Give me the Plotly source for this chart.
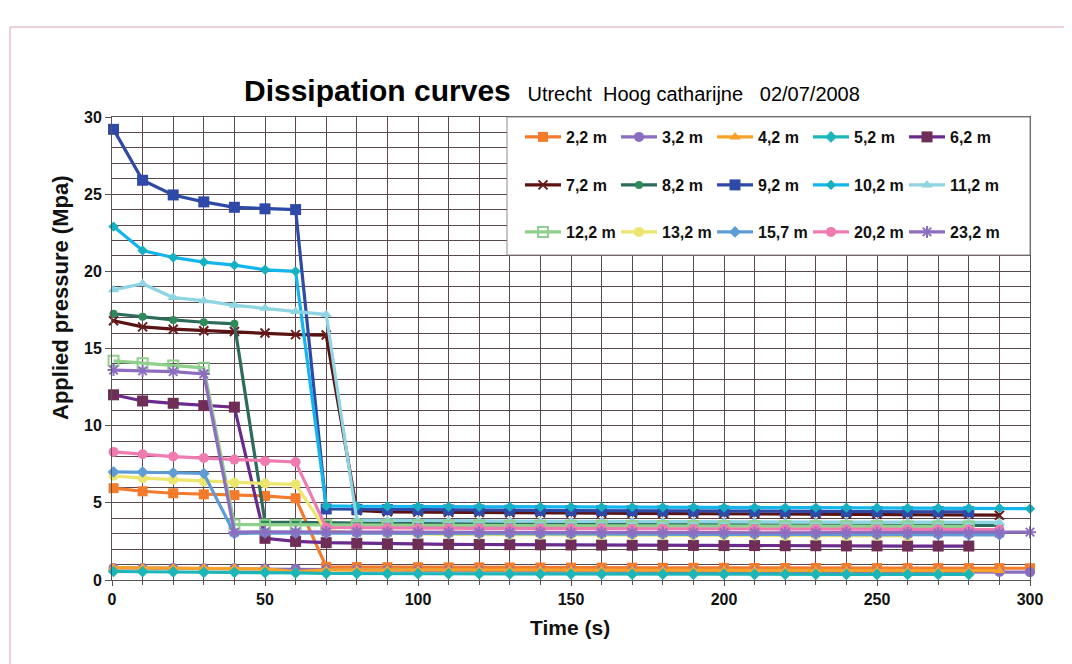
import plotly.graph_objects as go

# ---- data ----
T = [0.5, 10, 20, 30, 40, 50, 60, 70, 80, 90, 100, 110, 120, 130, 140, 150,
     160, 170, 180, 190, 200, 210, 220, 230, 240, 250, 260, 270, 280, 290, 300]

names = ["2,2 m", "3,2 m", "4,2 m", "5,2 m", "6,2 m",
         "7,2 m", "8,2 m", "9,2 m", "10,2 m", "11,2 m",
         "12,2 m", "13,2 m", "15,7 m", "20,2 m", "23,2 m"]

d22 = [5.95, 5.75, 5.62, 5.55, 5.5, 5.45, 5.3, 0.85, 0.84, 0.83, 0.83, 0.82, 0.82, 0.81, 0.81, 0.8,
       0.8, 0.8, 0.79, 0.79, 0.79, 0.78, 0.78, 0.78, 0.78, 0.77, 0.77, 0.77, 0.77, 0.77, 0.76]
d32 = [0.78, 0.77, 0.77, 0.76, 0.76, 0.74, 0.73, 0.68, 0.66, 0.64, 0.62, 0.61, 0.6, 0.59, 0.58, 0.58,
       0.57, 0.57, 0.56, 0.56, 0.55, 0.55, 0.54, 0.54, 0.53, 0.53, 0.53, 0.52, 0.52, 0.52, 0.51]
d42 = [0.8, 0.79, 0.78, 0.78, 0.77, 0.72, 0.55, 0.65, 0.66, 0.66, 0.65, 0.65, 0.65, 0.64, 0.64, 0.64,
       0.64, 0.63, 0.63, 0.63, 0.63, 0.62, 0.62, 0.62, 0.62, 0.62, 0.61, 0.61, 0.61, 0.61]
d52 = [0.55, 0.54, 0.52, 0.5, 0.5, 0.48, 0.46, 0.42, 0.42, 0.41, 0.41, 0.4, 0.4, 0.4, 0.39, 0.39,
       0.39, 0.38, 0.38, 0.38, 0.38, 0.37, 0.37, 0.37, 0.37, 0.36, 0.36, 0.36, 0.36]
d62 = [12.0, 11.6, 11.45, 11.3, 11.2, 2.7, 2.5, 2.42, 2.38, 2.35, 2.33, 2.31, 2.3, 2.29, 2.28, 2.27,
       2.26, 2.25, 2.25, 2.24, 2.23, 2.23, 2.22, 2.22, 2.21, 2.21, 2.2, 2.2, 2.2]
d72 = [16.8, 16.4, 16.25, 16.15, 16.1, 16.0, 15.9, 15.87, 4.5, 4.42, 4.4, 4.38, 4.37, 4.36, 4.35, 4.34,
       4.33, 4.32, 4.31, 4.3, 4.3, 4.29, 4.28, 4.28, 4.27, 4.26, 4.26, 4.25, 4.25, 4.2]
d82 = [17.25, 17.05, 16.85, 16.7, 16.6, 3.75, 3.72, 3.7, 3.68, 3.67, 3.66, 3.65, 3.64, 3.63, 3.62, 3.61,
       3.6, 3.6, 3.59, 3.58, 3.58, 3.57, 3.56, 3.56, 3.55, 3.55, 3.54, 3.54, 3.53, 3.53]
d92 = [29.2, 25.9, 24.95, 24.5, 24.15, 24.05, 24.0, 4.6, 4.58, 4.56, 4.55, 4.54, 4.53, 4.52, 4.51, 4.5,
       4.5, 4.49, 4.48, 4.47, 4.47, 4.46, 4.45, 4.45, 4.44, 4.44, 4.43, 4.43, 4.42]
d102 = [22.9, 21.35, 20.9, 20.6, 20.4, 20.1, 20.0, 4.8, 4.78, 4.77, 4.76, 4.75, 4.75, 4.74, 4.73, 4.73,
        4.72, 4.72, 4.71, 4.71, 4.7, 4.7, 4.69, 4.69, 4.68, 4.68, 4.67, 4.67, 4.66, 4.66, 4.62]
d112 = [18.8, 19.2, 18.3, 18.1, 17.8, 17.6, 17.4, 17.2, 3.9, 3.87, 3.85, 3.84, 3.83, 3.82, 3.81, 3.8,
        3.8, 3.79, 3.78, 3.78, 3.77, 3.77, 3.76, 3.76, 3.75, 3.75, 3.74, 3.74, 3.73, 3.73]
d122 = [14.2, 14.05, 13.9, 13.75, 3.6, 3.58, 3.57, 3.56, 3.55, 3.55, 3.54, 3.53, 3.53, 3.52, 3.52, 3.51,
        3.51, 3.5, 3.5, 3.5, 3.49, 3.49, 3.49, 3.48, 3.48, 3.48, 3.47, 3.47, 3.47]
d132 = [6.75, 6.6, 6.5, 6.4, 6.3, 6.25, 6.2, 3.2, 3.05, 3.0, 2.98, 2.96, 2.95, 2.94, 2.93, 2.92,
        2.91, 2.9, 2.9, 2.89, 2.88, 2.88, 2.87, 2.87, 2.86, 2.86, 2.85]
d157 = [7.0, 7.0, 6.95, 6.9, 3.0, 3.05, 3.04, 3.03, 3.02, 3.02, 3.01, 3.0, 3.0, 2.99, 2.99, 2.98,
        2.98, 2.97, 2.97, 2.96, 2.96, 2.96, 2.95, 2.95, 2.95, 2.94, 2.94, 2.94, 2.93, 2.93]
d202 = [8.3, 8.15, 8.0, 7.9, 7.8, 7.7, 7.65, 3.4, 3.38, 3.37, 3.36, 3.35, 3.35, 3.34, 3.34, 3.33,
        3.33, 3.32, 3.32, 3.31, 3.31, 3.3, 3.3, 3.3, 3.29, 3.29, 3.28, 3.28, 3.28, 3.27]
d232 = [13.6, 13.55, 13.5, 13.35, 3.1, 3.12, 3.12, 3.11, 3.11, 3.1, 3.1, 3.1, 3.09, 3.09, 3.09, 3.08,
        3.08, 3.08, 3.07, 3.07, 3.07, 3.06, 3.06, 3.06, 3.06, 3.05, 3.05, 3.05, 3.05, 3.05, 3.1]

series = [d22, d32, d42, d52, d62, d72, d82, d92, d102, d112, d122, d132, d157, d202, d232]

# ---- styles ----
line_colors = ["#F47A2C", "#8A6DBE", "#F8A22A", "#1DB6B8", "#6A2A8E",
               "#5A1212", "#2D6B5C", "#2F4AA6", "#14B5EC", "#8ED4E2",
               "#8ED08C", "#EDE66E", "#5E9CD6", "#EF7BB0", "#8D6DC0"]
marker_colors = ["#F47A2C", "#8A6DBE", "#F8A22A", "#1DB6B8", "#6E2E55",
                 "#6A1A1A", "#2E8B5A", "#2F4AA6", "#17B0C0", "#8ED4E2",
                 "#8ED08C", "#EDE66E", "#5E9CD6", "#EF7BB0", "#8D6DC0"]
symbols = ["square", "circle", "triangle-up", "diamond", "square",
           "x-thin-open", "circle", "square", "diamond", "triangle-up",
           "square-open", "circle", "diamond", "circle", "asterisk-open"]
msizes = [10, 10, 10, 9, 11, 9, 8, 11, 8, 10, 10, 10, 9, 10, 10]

legends = ["legend"] * 5 + ["legend2"] * 5 + ["legend3"] * 5

fig = go.Figure()
for i, (nm, vals) in enumerate(zip(names, series)):
    sym = symbols[i]
    mk = dict(symbol=sym, size=msizes[i], color=marker_colors[i])
    if sym.endswith("open"):
        mk["line"] = dict(color=marker_colors[i], width=2)
    fig.add_trace(go.Scatter(
        x=T[:len(vals)], y=vals, name=nm, mode="lines+markers",
        line=dict(color=line_colors[i], width=3.2), marker=mk,
        legend=legends[i], cliponaxis=False))

W, H = 1072, 664
OFF = 8  # page body margin
L, R, TOP, B = 104, 50, 109, 92
pw, ph = W - L - R, H - TOP - B


def px(xs):
    return (xs - OFF - L) / pw


def py(ys):
    return (H - B - (ys - OFF)) / ph


grid = "#5B474E"
font = "Liberation Sans, Arial, sans-serif"

leg_common = dict(orientation="h", xanchor="left", yanchor="middle",
                  x=px(520), bgcolor="rgba(0,0,0,0)", borderwidth=0,
                  entrywidth=45, entrywidthmode="pixels", itemwidth=36,
                  font=dict(family=font, size=16, color="#111111", weight="bold"))

fig.update_layout(
    width=W, height=H,
    margin=dict(l=L, r=R, t=TOP, b=B, autoexpand=False),
    paper_bgcolor="white", plot_bgcolor="white",
    font=dict(family=font, color="#111111"),
    showlegend=True,
    legend=dict(leg_common, y=py(137)),
    legend2=dict(leg_common, y=py(185)),
    legend3=dict(leg_common, y=py(232)),
    xaxis=dict(range=[0, 300], dtick=50, tick0=0, showgrid=True, gridcolor=grid,
               gridwidth=1, zeroline=False, showline=True, linecolor="#555555",
               linewidth=1, mirror=True, ticks="outside", ticklen=5, tickcolor="#555555",
               tickfont=dict(family=font, size=16, color="#111111", weight="bold"),
               minor=dict(dtick=10, showgrid=True, gridcolor=grid, gridwidth=1,
                          ticks="outside", ticklen=4, tickcolor="#555555")),
    yaxis=dict(range=[0, 30], dtick=5, tick0=0, showgrid=True, gridcolor=grid,
               gridwidth=1, zeroline=False, showline=True, linecolor="#555555",
               linewidth=1, mirror=True, ticks="outside", ticklen=6, tickcolor="#555555",
               tickfont=dict(family=font, size=16, color="#111111", weight="bold"),
               minor=dict(dtick=1, showgrid=True, gridcolor=grid, gridwidth=1)),
    shapes=[
        # legend box covering the grid
        dict(type="rect", xref="paper", yref="paper", x0=px(507), x1=1.0,
             y0=py(255), y1=1.0, fillcolor="white", line=dict(color="#8A8A8A", width=1),
             layer="above"),
        # outer frame
        dict(type="rect", xref="paper", yref="paper", x0=px(10), x1=px(1095),
             y0=py(700), y1=py(27), fillcolor="rgba(0,0,0,0)",
             line=dict(color="#D8A3AC", width=1), layer="above"),
    ],
    annotations=[
        dict(xref="paper", yref="paper", x=px(552), y=py(90), xanchor="center", yanchor="middle",
             showarrow=False,
             text="<b>Dissipation curves</b>  <span style='font-size:20px'>Utrecht  Hoog catharijne   02/07/2008</span>",
             font=dict(family=font, size=30, color="#000000")),
        dict(xref="paper", yref="paper", x=px(60), y=py(298), xanchor="center", yanchor="middle",
             showarrow=False, textangle=-90, text="<b>Applied pressure (Mpa)</b>",
             font=dict(family=font, size=22, color="#111111")),
        dict(xref="paper", yref="paper", x=px(570), y=py(627), xanchor="center", yanchor="middle",
             showarrow=False, text="<b>Time (s)</b>",
             font=dict(family=font, size=21, color="#111111")),
    ],
)

fig.write_html("out.html")
